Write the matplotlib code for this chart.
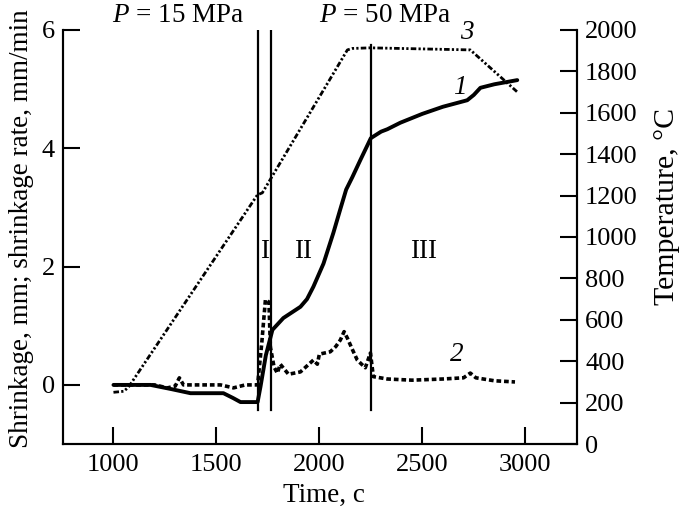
import matplotlib
matplotlib.use("Agg")
import matplotlib.pyplot as plt

plt.rcParams['font.family'] = ['Liberation Serif', 'DejaVu Serif']
plt.rcParams['mathtext.fontset'] = 'custom'
plt.rcParams['mathtext.rm'] = 'Liberation Serif'
plt.rcParams['mathtext.it'] = 'Liberation Serif:italic'

# Curve 1: shrinkage, mm
t1 = [1000, 1100, 1180, 1280, 1374, 1534, 1580, 1617, 1700, 1714, 1740, 1772, 1825, 1908, 1940,
      1971, 2020, 2068, 2100, 2130, 2160, 2199, 2250, 2300, 2330, 2393, 2500, 2600, 2718, 2750,
      2782, 2850, 2961]
s1 = [0.0, 0.0, 0.0, -0.07, -0.14, -0.14, -0.22, -0.29, -0.29, -0.03, 0.5, 0.93, 1.13, 1.32, 1.45,
      1.66, 2.05, 2.57, 2.95, 3.3, 3.51, 3.8, 4.17, 4.28, 4.32, 4.43, 4.58, 4.7, 4.81, 4.9,
      5.02, 5.08, 5.15]

# Curve 2: shrinkage rate, mm/min
t2 = [1000, 1100, 1200, 1262, 1300, 1320, 1340, 1390, 1520, 1583, 1640, 1700, 1720, 1738, 1755,
      1762, 1780, 1796, 1810, 1850, 1908, 1971, 1990, 2000, 2053, 2080, 2102, 2120, 2136,
      2160, 2184, 2223, 2248, 2262, 2330, 2450, 2600, 2700, 2733, 2760, 2850, 2950]
s2 = [0.0, 0.0, 0.0, -0.05, -0.02, 0.12, 0.0, 0.0, 0.0, -0.05, 0.0, 0.0, 0.7, 1.44, 1.4,
      0.64, 0.3, 0.2, 0.35, 0.18, 0.22, 0.42, 0.35, 0.52, 0.56, 0.65, 0.76, 0.9, 0.79,
      0.6, 0.42, 0.29, 0.54, 0.14, 0.1, 0.08, 0.1, 0.12, 0.2, 0.12, 0.07, 0.05]

# Curve 3: temperature, C
t3 = [1000, 1050, 1073, 1699, 1723, 2136, 2160, 2248, 2733, 2961]
temp3 = [250, 255, 275, 1203, 1213, 1903, 1910, 1913, 1903, 1700]

# Stage boundaries (time, c)
bounds = [1704, 1767, 2252]
bound_tops = [6.0, 6.0, 5.74]
stage_labels = ['I', 'II', 'III']
stage_x = [1736, 1922, 2505]

fig = plt.figure(figsize=(6.85, 5.14), dpi=100)
ax = fig.add_axes([0.092, 0.136, 0.750, 0.806])
ax2 = ax.twinx()

ax.plot(t1, s1, color='black', lw=2.8, solid_capstyle='round', solid_joinstyle='round')
ax.plot(t2, s2, color='black', lw=2.6, linestyle=(0, (1.3, 0.8)))
ax2.plot(t3, temp3, color='black', lw=2.0, linestyle=(0, (2, 0.8, 0.8, 0.8, 0.8, 0.8)))

for b, top in zip(bounds, bound_tops):
    ax.plot([b, b], [-0.42, top], color='black', lw=1.6)

ax.set_xlim(755, 3250)
ax.set_ylim(-1, 6)
ax2.set_ylim(0, 2000)

ax.set_xticks([1000, 1500, 2000, 2500, 3000])
ax.set_yticks([0, 2, 4, 6])
ax2.set_yticks(range(0, 2001, 200))

fs = 19
fl = 19.5
for a in (ax, ax2):
    a.spines['top'].set_visible(False)
    for sp in a.spines.values():
        sp.set_linewidth(1.5)
    a.tick_params(direction='in', length=12, width=1.5, labelsize=fs)
ax.tick_params(axis='x', pad=7)
ax.tick_params(axis='y', pad=6)
ax2.tick_params(axis='y', pad=6)

fig.text(0.473, 0.037, 'Time, c', fontsize=fl, ha='center', va='center')
fig.text(0.031, 0.556, 'Shrinkage, mm; shrinkage rate, mm/min', fontsize=fl,
         rotation=90, ha='center', va='center')
fig.text(0.974, 0.599, 'Temperature, °C', fontsize=21.5,
         rotation=90, ha='center', va='center')

for x, lab in zip(stage_x, stage_labels):
    ax.text(x, 2.25, lab, fontsize=fl, ha='center', va='center')

ax.text(2684, 5.03, '1', fontsize=fl, style='italic', ha='center', va='center')
ax.text(2665, 0.51, '2', fontsize=fl, style='italic', ha='center', va='center')
ax.text(2714, 5.95, '3', fontsize=fl, style='italic', ha='center', va='center')

ax.text(1316, 6.25, '$P$ = 15 MPa', fontsize=fl, ha='center', va='center', clip_on=False)
ax.text(2320, 6.25, '$P$ = 50 MPa', fontsize=fl, ha='center', va='center', clip_on=False)

fig.savefig('out.png', dpi=100)
